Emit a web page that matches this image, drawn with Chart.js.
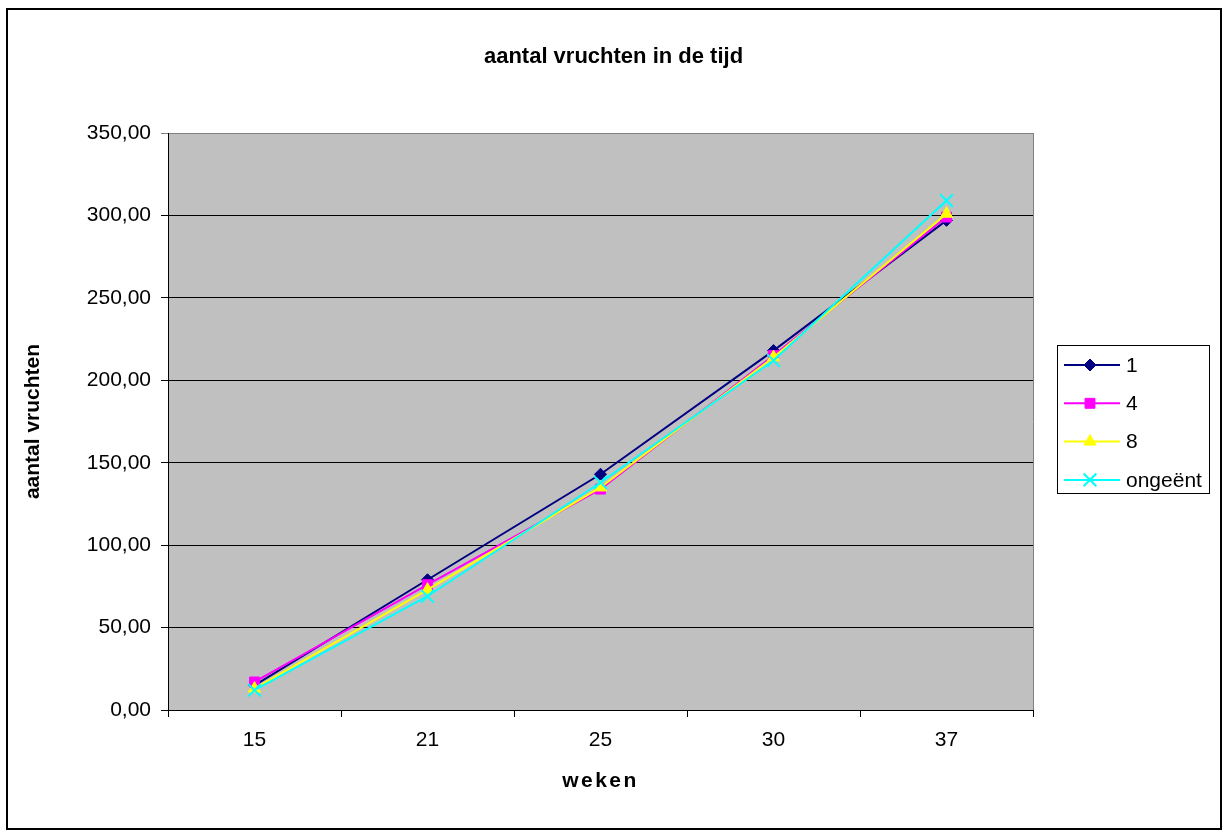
<!DOCTYPE html>
<html>
<head>
<meta charset="utf-8">
<script src="https://cdn.jsdelivr.net/npm/chart.js@4/dist/chart.umd.min.js"></script>
<style>
  html, body { margin: 0; padding: 0; background: #ffffff; }
  canvas { display: block; }
</style>
</head>
<body>
<canvas id="c" width="1227" height="834"></canvas>
<script>
// ---- data ----
const weeks = ['15', '21', '25', '30', '37'];
const seriesNames = ['1', '4', '8', 'ongeënt'];
const series1 = [15, 79, 143, 218, 297];
const series4 = [17, 76, 134, 215, 299];
const series8 = [13, 73, 135, 214, 301];
const seriesOngeent = [12, 69, 138, 212, 309];
const yTicks = [0, 50, 100, 150, 200, 250, 300, 350];

const chartTitle = 'aantal vruchten in de tijd';
const xTitle = 'weken';
const yTitle = 'aantal vruchten';

const FONT = "'Liberation Sans', Arial, Helvetica, sans-serif";

const plotBg = {
  id: 'plotBg',
  beforeDraw(chart) {
    const { ctx, chartArea: a } = chart;
    ctx.save();
    ctx.fillStyle = '#ffffff';
    ctx.fillRect(0, 0, chart.width, chart.height);
    ctx.fillStyle = '#c0c0c0';
    ctx.fillRect(a.left, a.top, a.right - a.left, a.bottom - a.top);
    ctx.restore();
  },
  afterDraw(chart) {
    const { ctx, chartArea: a } = chart;
    ctx.save();
    // plot area right border (grey)
    ctx.strokeStyle = '#808080';
    ctx.lineWidth = 1;
    ctx.beginPath();
    ctx.moveTo(Math.round(a.right) + 0.5, a.top);
    ctx.lineTo(Math.round(a.right) + 0.5, a.bottom);
    ctx.stroke();
    // outer chart border
    ctx.strokeStyle = '#000000';
    ctx.lineWidth = 2;
    ctx.strokeRect(7, 9, 1214, 820);
    ctx.restore();
  }
};

const customLegend = {
  id: 'customLegend',
  afterDraw(chart) {
    const { ctx } = chart;
    const bx = 1057.5, by = 345.5, bw = 152, bh = 148;
    ctx.save();
    ctx.fillStyle = '#ffffff';
    ctx.fillRect(bx, by, bw, bh);
    ctx.strokeStyle = '#000000';
    ctx.lineWidth = 1;
    ctx.strokeRect(bx, by, bw, bh);
    chart.data.datasets.forEach((ds, i) => {
      const y = 365 + i * 38.3;
      ctx.strokeStyle = ds.borderColor;
      ctx.lineWidth = 2;
      ctx.beginPath();
      ctx.moveTo(1064, y);
      ctx.lineTo(1120, y);
      ctx.stroke();
      const opts = {
        pointStyle: ds.pointStyle,
        radius: ds.pointRadius,
        rotation: 0,
        borderWidth: ds.pointBorderWidth
      };
      ctx.fillStyle = ds.pointBackgroundColor;
      ctx.strokeStyle = ds.pointBorderColor;
      ctx.lineWidth = ds.pointBorderWidth;
      if (Chart.helpers && Chart.helpers.drawPoint) {
        Chart.helpers.drawPoint(ctx, opts, 1090, y);
      }
      ctx.fillStyle = '#000000';
      ctx.font = '21px ' + FONT;
      ctx.textAlign = 'left';
      ctx.textBaseline = 'middle';
      ctx.fillText(seriesNames[i], 1126, y + 1);
    });
    ctx.restore();
  }
};

function makeDs(label, data, color, style, radius, bw, order) {
  return {
    label: label,
    data: data,
    yAxisID: 'y',
    borderColor: color,
    backgroundColor: color,
    borderWidth: 2,
    pointStyle: style,
    pointRadius: radius,
    pointHoverRadius: radius,
    pointBackgroundColor: color,
    pointBorderColor: color,
    pointBorderWidth: bw,
    tension: 0,
    fill: false,
    order: order
  };
}

// letter-spaced axis title (the reference spaces the letters of "weken")
function spacedTitle(scale, spacing) {
  if (scale._spacedWrapped) return;
  scale._spacedWrapped = true;
  const orig = scale.drawTitle.bind(scale);
  scale.drawTitle = function () {
    const ctx = this.ctx;
    const prev = ctx.letterSpacing;
    ctx.letterSpacing = spacing;
    orig();
    ctx.letterSpacing = prev || '0px';
  };
}

new Chart(document.getElementById('c'), {
  type: 'line',
  data: {
    labels: weeks,
    datasets: [
      makeDs(seriesNames[0], series1, '#000080', 'rectRot', 6, 1, 3),
      makeDs(seriesNames[1], series4, '#ff00ff', 'rect', 7, 1, 2),
      makeDs(seriesNames[2], series8, '#ffff00', 'triangle', 7, 1, 1),
      makeDs(seriesNames[3], seriesOngeent, '#00ffff', 'crossRot', 9, 2, 0)
    ]
  },
  options: {
    responsive: false,
    animation: false,
    events: [],
    layout: { padding: { left: 19, top: 0, right: 19, bottom: 40 } },
    plugins: {
      legend: { display: false },
      tooltip: { enabled: false },
      title: {
        display: true,
        text: chartTitle,
        color: '#000000',
        font: { family: FONT, size: 22, weight: 'bold' },
        padding: { top: 44, bottom: 62.6 }
      }
    },
    scales: {
      x: {
        type: 'category',
        offset: true,
        afterFit(s) { s.height = 84; spacedTitle(s, '2.5px'); },
        grid: {
          display: true,
          offset: true,
          drawOnChartArea: false,
          drawTicks: true,
          tickLength: 7,
          color: '#000000',
          lineWidth: 1
        },
        border: { display: true, color: '#000000', width: 1 },
        ticks: {
          color: '#000000',
          font: { family: FONT, size: 21 },
          padding: 11,
          maxRotation: 0,
          autoSkip: false
        },
        title: {
          display: true,
          text: xTitle,
          color: '#000000',
          font: { family: FONT, size: 21, weight: 'bold' },
          padding: { top: 0, bottom: 0 }
        }
      },
      y: {
        position: 'left',
        min: yTicks[0],
        max: yTicks[yTicks.length - 1],
        afterFit(s) { s.width = 149; },
        afterBuildTicks(s) { s.ticks = yTicks.map(v => ({ value: v })); },
        grid: {
          display: true,
          drawTicks: true,
          tickLength: 7,
          color: (c) => (c.tick && c.tick.value === 350 ? '#808080' : '#000000'),
          lineWidth: 1
        },
        border: { display: true, color: '#000000', width: 1 },
        ticks: {
          color: '#000000',
          font: { family: FONT, size: 21 },
          padding: 10,
          callback: (v) => Number(v).toFixed(2).replace('.', ',')
        },
        title: {
          display: true,
          text: yTitle,
          color: '#000000',
          font: { family: FONT, size: 21, weight: 'bold' },
          padding: { top: 2, bottom: 0 }
        }
      },
      // empty right-hand axis reserving room for the legend so the title stays centred on the page
      yRight: {
        position: 'right',
        min: yTicks[0],
        max: yTicks[yTicks.length - 1],
        afterFit(s) { s.width = 175; },
        grid: { display: false },
        border: { display: false },
        ticks: { display: false },
        title: { display: false }
      }
    }
  },
  plugins: [plotBg, customLegend]
});
</script>
</body>
</html>
